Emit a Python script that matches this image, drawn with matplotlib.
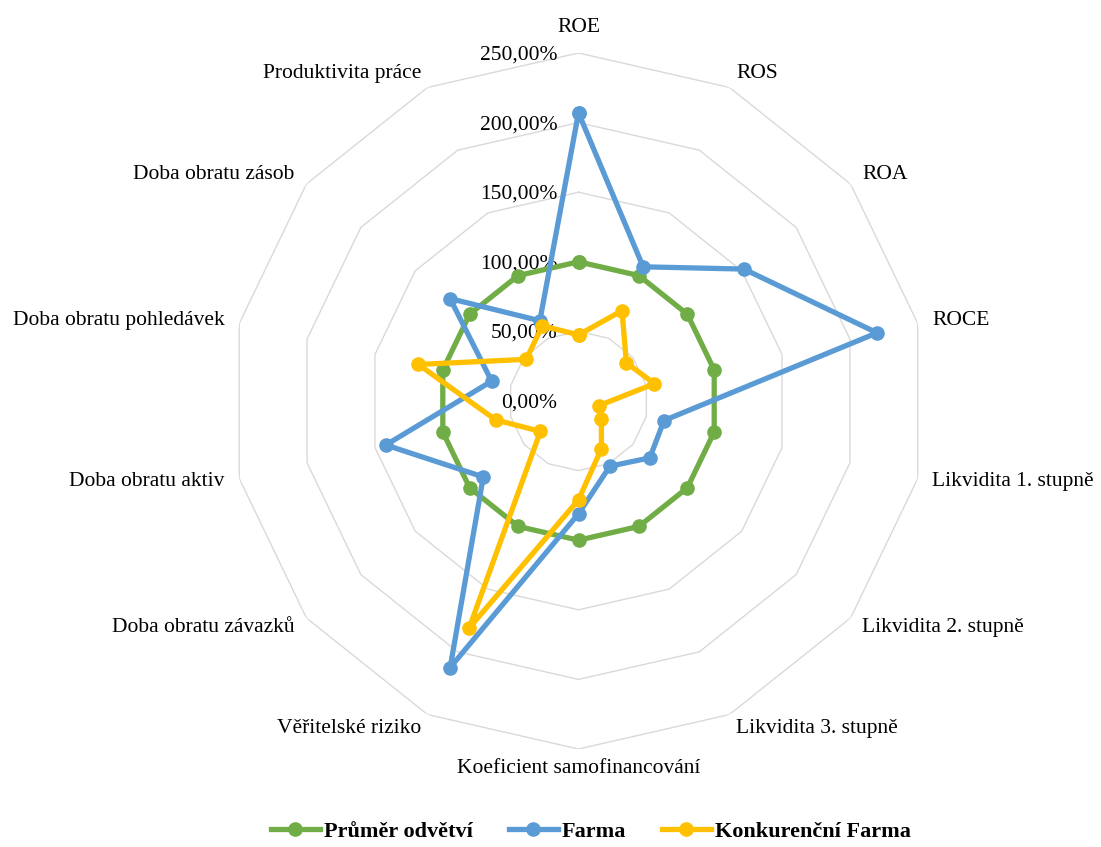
import numpy as np
import matplotlib
matplotlib.use("Agg")
import matplotlib.pyplot as plt

plt.rcParams['font.family'] = ['Liberation Serif', 'DejaVu Serif']

categories = [
    "ROE", "ROS", "ROA", "ROCE",
    "Likvidita 1. stupně", "Likvidita 2. stupně", "Likvidita 3. stupně",
    "Koeficient samofinancování", "Věřitelské riziko",
    "Doba obratu závazků", "Doba obratu aktiv", "Doba obratu pohledávek",
    "Doba obratu zásob", "Produktivita práce",
]

prumer_odvetvi = [100, 100, 100, 100, 100, 100, 100, 100, 100, 100, 100, 100, 100, 100]
farma = [207, 107, 152, 220, 63, 65.5, 52, 81, 212.5, 87.5, 142, 64, 118, 64]
konkurencni_farma = [47.5, 72, 44, 56, 15, 21, 38, 71, 181, 35, 61, 118, 48, 60]

ring_values = [0, 50, 100, 150, 200, 250]
ring_labels = ["0,00%", "50,00%", "100,00%", "150,00%", "200,00%", "250,00%"]

series = [
    ("Průměr odvětví", prumer_odvetvi, "#70AD47"),
    ("Farma", farma, "#5B9BD5"),
    ("Konkurenční Farma", konkurencni_farma, "#FFC000"),
]

W, H = 1101, 847
fig = plt.figure(figsize=(W / 100, H / 100), dpi=100)

cx, cy, R = 578.5, 401.0, 348.0
ax = fig.add_axes([(cx - R) / W, 1 - (cy + R) / H, 2 * R / W, 2 * R / H],
                  projection="polar")
ax.set_theta_zero_location("N")
ax.set_theta_direction(-1)
ax.set_ylim(0, 250)
ax.grid(False)
ax.set_xticks([])
ax.set_yticks([])
ax.spines["polar"].set_visible(False)
ax.patch.set_visible(False)

n = len(categories)
theta = np.linspace(0, 2 * np.pi, n, endpoint=False)
theta_closed = np.append(theta, theta[0])

# polygonal gridlines
for rv in ring_values[1:]:
    ax.plot(theta_closed, [rv] * (n + 1), color="#D9D9D9", lw=1.0, zorder=1)

# value scale labels along the top axis
for rv, lab in zip(ring_values, ring_labels):
    ax.annotate(lab, xy=(0, rv), xytext=(-21, -2), textcoords="offset pixels",
                ha="right", va="center", fontsize=15.5, color="#000000",
                annotation_clip=False, zorder=2)

# data series
for name, vals, col in series:
    v = list(vals) + [vals[0]]
    ax.plot(theta_closed, v, color=col, lw=3.8, marker="o", markersize=9.5,
            solid_joinstyle="round", label=name, zorder=3, clip_on=False)

# category labels around the outer ring
pad = 15
for t, lab in zip(theta, categories):
    s, c = np.sin(t), np.cos(t)
    if abs(s) < 0.05:
        ha = "center"
        if c > 0:
            va, off = "bottom", (0, 16)
        else:
            va, off = "top", (0, -10)
    else:
        ha = "left" if s > 0 else "right"
        va = "center"
        off = (pad * s, pad * c)
    ax.annotate(lab, xy=(t, 250), xytext=off, textcoords="offset pixels",
                ha=ha, va=va, fontsize=15.5, annotation_clip=False)

leg = fig.legend(loc="center", bbox_to_anchor=(591 / W, 1 - 832 / H), ncol=3,
                 frameon=False, handlelength=2.2, handletextpad=0.2,
                 columnspacing=1.6, prop={"size": 16, "weight": "bold"})

fig.savefig("out.png", dpi=100, facecolor="white")
